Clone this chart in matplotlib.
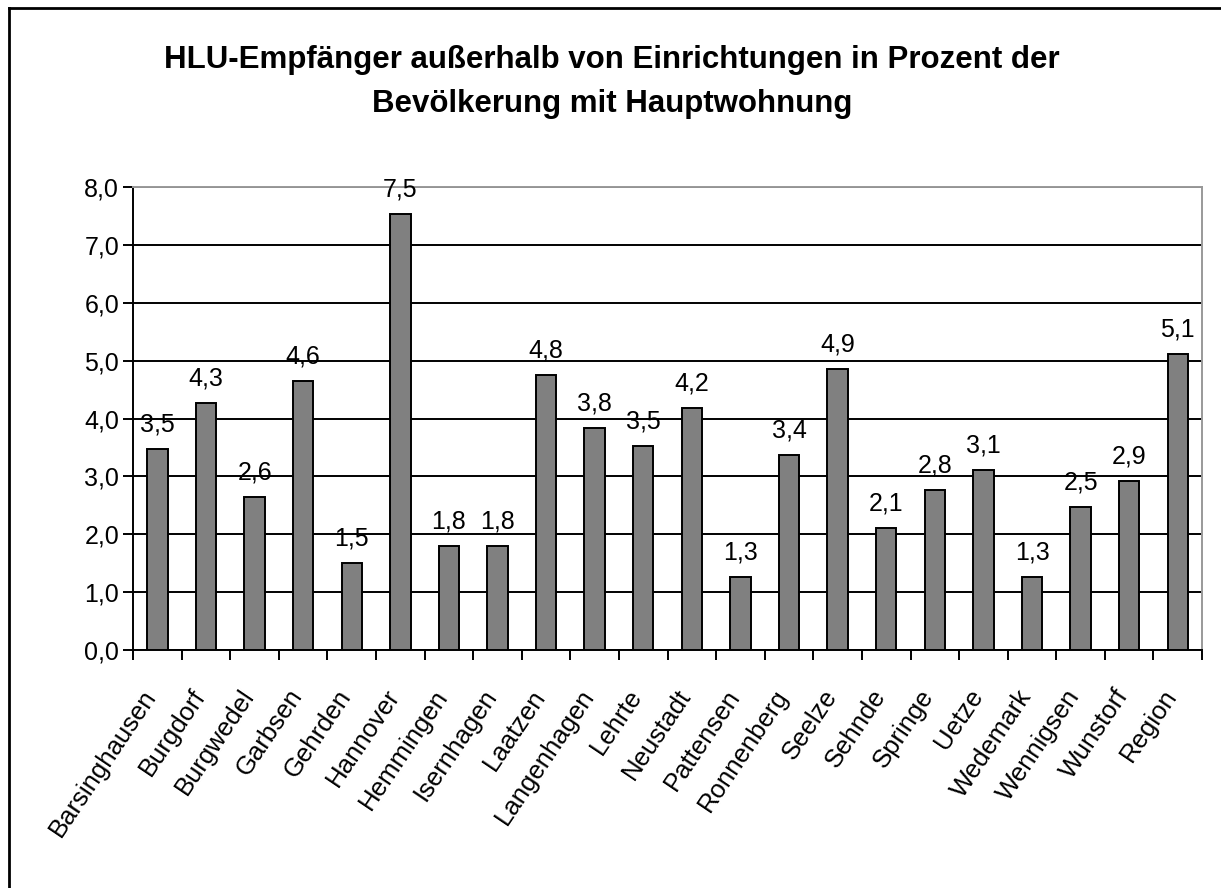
import numpy as np
import matplotlib
matplotlib.use("Agg")
import matplotlib.pyplot as plt
from matplotlib.lines import Line2D
from matplotlib.transforms import ScaledTranslation

plt.rcParams['font.family'] = ['Liberation Sans', 'DejaVu Sans']

# data
orte = ["Barsinghausen", "Burgdorf", "Burgwedel", "Garbsen", "Gehrden", "Hannover",
        "Hemmingen", "Isernhagen", "Laatzen", "Langenhagen", "Lehrte", "Neustadt",
        "Pattensen", "Ronnenberg", "Seelze", "Sehnde", "Springe", "Uetze",
        "Wedemark", "Wennigsen", "Wunstorf", "Region"]
werte = [3.47, 4.27, 2.64, 4.64, 1.51, 7.53,
         1.80, 1.80, 4.76, 3.84, 3.52, 4.18,
         1.27, 3.37, 4.86, 2.11, 2.76, 3.11,
         1.27, 2.47, 2.92, 5.11]
y_ticks = [0, 1, 2, 3, 4, 5, 6, 7, 8]
titel_1 = "HLU-Empfänger außerhalb von Einrichtungen in Prozent der"
titel_2 = "Bevölkerung mit Hauptwohnung"


def de(v):
    return f"{v:.1f}".replace(".", ",")


fig = plt.figure(figsize=(12.21, 8.88), dpi=100)
ax = fig.add_axes([0.109, 0.268, 0.8755, 0.5214])

x = np.arange(len(orte))
ax.bar(x, werte, width=0.42, color="#808080", edgecolor="black", linewidth=1.4, zorder=3)

for xi, v in zip(x, werte):
    ax.annotate(de(v), (xi, v), xytext=(0, 9), textcoords="offset points",
                ha="center", va="bottom", fontsize=18, zorder=4)

ax.set_xlim(-0.5, len(orte) - 0.5)
ax.set_ylim(0, 8)
ax.set_yticks(y_ticks)
ax.set_yticklabels([de(t) for t in y_ticks], fontsize=18)
ax.yaxis.grid(True, color="black", linewidth=1.4, zorder=0)
ax.set_axisbelow(True)

# category labels, ticks sit on the category boundaries
ax.set_xticks(x)
ax.set_xticklabels(orte, rotation=56, ha="right", va="center", rotation_mode="anchor",
                   fontsize=18.5)
ax.tick_params(axis="x", length=0, pad=30)
shift = ScaledTranslation(-6 / 100, 0, fig.dpi_scale_trans)
for lbl in ax.get_xticklabels():
    lbl.set_transform(lbl.get_transform() + shift)
ax.set_xticks(np.arange(len(orte) + 1) - 0.5, minor=True)
ax.tick_params(axis="x", which="minor", length=7, width=1.4, direction="out")
ax.tick_params(axis="y", length=7, width=1.4, direction="out", pad=3)

for side in ["top", "right"]:
    ax.spines[side].set_color("#999999")
    ax.spines[side].set_linewidth(1.4)
for side in ["left", "bottom"]:
    ax.spines[side].set_color("black")
    ax.spines[side].set_linewidth(1.4)

fig.text(0.501, 1 - 60 / 888, titel_1, ha="center", va="center", fontsize=22.5,
         fontweight="bold")
fig.text(0.501, 1 - 104 / 888, titel_2, ha="center", va="center", fontsize=22.5,
         fontweight="bold")

# outer chart frame (only top and left edge fall inside the picture)
fx, fy = 8.5 / 1221, 1 - 8.5 / 888
fig.add_artist(Line2D([fx, 1], [fy, fy], transform=fig.transFigure, color="black", lw=2))
fig.add_artist(Line2D([fx, fx], [0, fy], transform=fig.transFigure, color="black", lw=2))

fig.savefig("out.png", dpi=100)
